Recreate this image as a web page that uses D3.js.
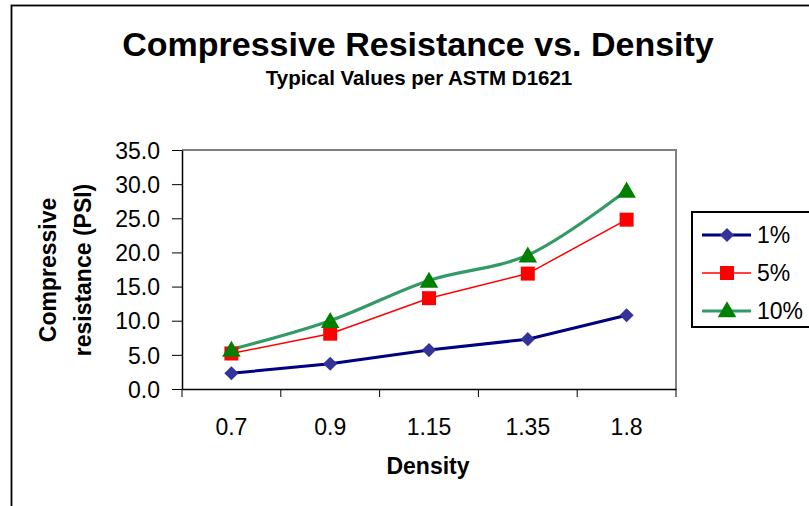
<!DOCTYPE html>
<html>
<head>
<meta charset="utf-8">
<script src="https://cdn.jsdelivr.net/npm/d3@7"></script>
<style>
  body { margin: 0; background: #fff; }
  text { font-family: "Liberation Sans", Arial, sans-serif; fill: #000; }
</style>
</head>
<body>
<div id="chart"></div>
<script>
// data
const densities = ["0.7", "0.9", "1.15", "1.35", "1.8"];
const seriesNames = ["1%", "5%", "10%"];
const values1 = [2.3, 3.7, 5.7, 7.3, 10.8];
const values5 = [5.2, 8.1, 13.3, 16.9, 24.8];
const values10 = [5.8, 10.0, 15.9, 19.6, 29.1];
const yTicks = [0, 5, 10, 15, 20, 25, 30, 35];

const W = 809, H = 506;
const plot = { left: 182, right: 676, top: 150, bottom: 389 };

// Excel style diamond: square turned 45 degrees
const diamond = {
    draw(ctx, size) {
        const r = Math.sqrt(size / 2);
        ctx.moveTo(0, -r);
        ctx.lineTo(r, 0);
        ctx.lineTo(0, r);
        ctx.lineTo(-r, 0);
        ctx.closePath();
    }
};

const svg = d3.select("#chart")
    .append("svg")
    .attr("width", W)
    .attr("height", H);

svg.append("rect").attr("width", W).attr("height", H).attr("fill", "#fff");

// outer chart border (right/bottom cut off in the picture)
svg.append("rect")
    .attr("x", 11.5).attr("y", 5.5)
    .attr("width", 840).attr("height", 540)
    .attr("fill", "none")
    .attr("stroke", "#000")
    .attr("stroke-width", 1.8);

const x = d3.scaleBand()
    .domain(densities)
    .range([plot.left, plot.right])
    .padding(0);

const y = d3.scaleLinear()
    .domain([0, 35])
    .range([plot.bottom, plot.top]);

// plot area frame (top/right gray)
svg.append("path")
    .attr("d", `M${plot.left},${plot.top}H${plot.right}V${plot.bottom}`)
    .attr("fill", "none")
    .attr("stroke", "#808080")
    .attr("stroke-width", 2);

// y axis
const yAxis = svg.append("g")
    .attr("transform", `translate(${plot.left},0)`)
    .call(d3.axisLeft(y).tickValues(yTicks).tickFormat(d3.format(".1f"))
        .tickSize(10).tickSizeOuter(0).tickPadding(12));
yAxis.select(".domain").attr("stroke", "#000").attr("stroke-width", 1.5);
yAxis.selectAll(".tick line").attr("stroke", "#000");
yAxis.selectAll("text").style("font-size", "23px").attr("dy", "0.36em");

// x axis: labels at band centres, ticks on band edges
const xAxis = svg.append("g")
    .attr("transform", `translate(0,${plot.bottom})`)
    .call(d3.axisBottom(x).tickSize(0).tickSizeOuter(0));
xAxis.select(".domain").attr("stroke", "#000").attr("stroke-width", 1.5);
xAxis.selectAll("text").style("font-size", "23px").attr("y", 46).attr("dy", null);

const edges = densities.map(d => x(d)).concat([x.range()[1]]);
svg.append("g").selectAll("line")
    .data(edges)
    .enter().append("line")
    .attr("x1", d => d).attr("x2", d => d)
    .attr("y1", plot.bottom).attr("y2", plot.bottom + 8)
    .attr("stroke", "#000");

// titles
svg.append("text")
    .attr("x", 418).attr("y", 56)
    .attr("text-anchor", "middle")
    .style("font-size", "34px").style("font-weight", "bold")
    .text("Compressive Resistance vs. Density");

svg.append("text")
    .attr("x", 419).attr("y", 85)
    .attr("text-anchor", "middle")
    .style("font-size", "20.5px").style("font-weight", "bold")
    .text("Typical Values per ASTM D1621");

svg.append("text")
    .attr("x", 428).attr("y", 474)
    .attr("text-anchor", "middle")
    .style("font-size", "23px").style("font-weight", "bold")
    .text("Density");

const yt = svg.append("text")
    .attr("transform", "translate(0,270) rotate(-90)")
    .attr("text-anchor", "middle")
    .style("font-size", "23px").style("font-weight", "bold");
yt.append("tspan").attr("x", 0).attr("y", 56).text("Compressive");
yt.append("tspan").attr("x", 0).attr("y", 91).text("resistance (PSI)");

// series
const series = [
    { name: seriesNames[0], values: values1, stroke: "#000080", width: 3, fill: "#333399", symbol: diamond, size: 100, dy: 0, curve: d3.curveLinear },
    { name: seriesNames[1], values: values5, stroke: "#ff0000", width: 1.5, fill: "#ff0000", symbol: d3.symbolSquare, size: 196, dy: 0, curve: d3.curveLinear },
    { name: seriesNames[2], values: values10, stroke: "#339966", width: 3.2, fill: "#008000", symbol: d3.symbolTriangle, size: 150, dy: 2, curve: d3.curveCatmullRom.alpha(0.5) }
];

const cx = d => x(d) + x.bandwidth() / 2;

series.forEach(s => {
    const line = d3.line()
        .x((v, i) => cx(densities[i]))
        .y(v => y(v))
        .curve(s.curve);
    svg.append("path")
        .datum(s.values)
        .attr("d", line)
        .attr("fill", "none")
        .attr("stroke", s.stroke)
        .attr("stroke-width", s.width);
});

series.forEach(s => {
    svg.append("g").selectAll("path")
        .data(s.values)
        .enter().append("path")
        .attr("d", d3.symbol().type(s.symbol).size(s.size))
        .attr("transform", (v, i) => `translate(${cx(densities[i])},${y(v) + s.dy})`)
        .attr("fill", s.fill);
});

// legend
const legend = svg.append("g");
legend.append("rect")
    .attr("x", 692).attr("y", 212)
    .attr("width", 140).attr("height", 115)
    .attr("fill", "#fff")
    .attr("stroke", "#000")
    .attr("stroke-width", 2);

series.forEach((s, i) => {
    const ly = 235 + i * 38;
    legend.append("line")
        .attr("x1", 702).attr("x2", 751)
        .attr("y1", ly).attr("y2", ly)
        .attr("stroke", s.stroke)
        .attr("stroke-width", s.width);
    legend.append("path")
        .attr("d", d3.symbol().type(s.symbol).size(s.size))
        .attr("transform", `translate(727,${ly + s.dy / 2})`)
        .attr("fill", s.fill);
    legend.append("text")
        .attr("x", 757).attr("y", ly)
        .attr("dy", "0.36em")
        .style("font-size", "23px")
        .text(s.name);
});
</script>
</body>
</html>
